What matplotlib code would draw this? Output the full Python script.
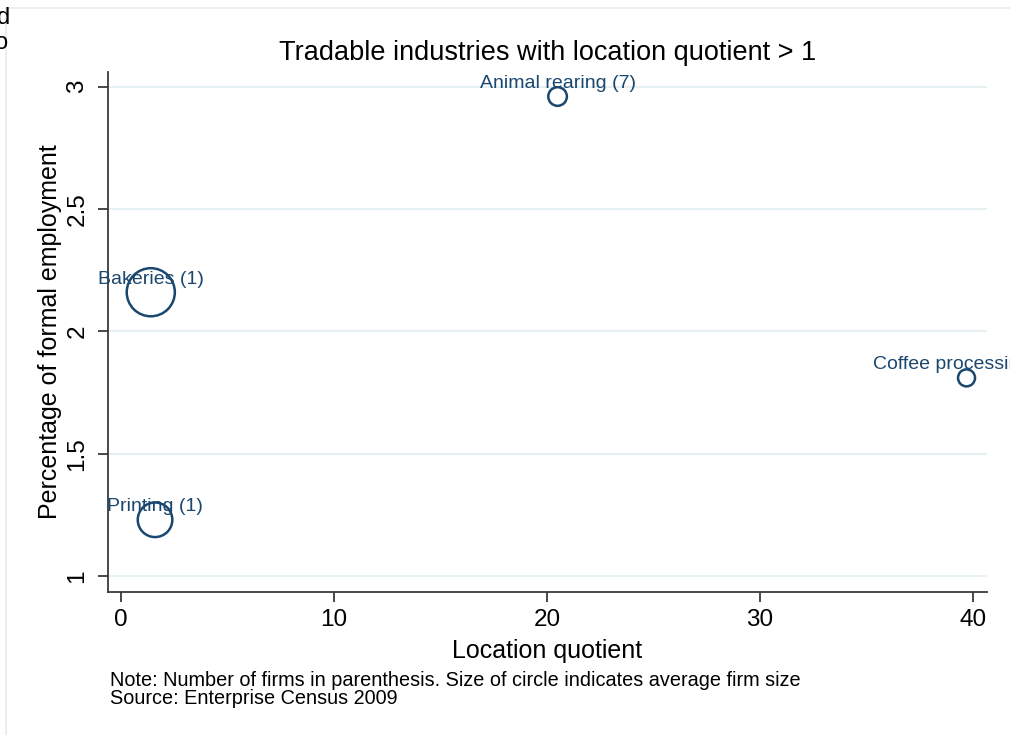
import numpy as np
import matplotlib.pyplot as plt
from matplotlib.lines import Line2D

plt.rcParams['font.family'] = ['Liberation Sans', 'DejaVu Sans']

# Tradable industries, location quotient vs share of formal employment
industries = ['Animal rearing', 'Bakeries', 'Printing', 'Coffee processing']
n_firms = [7, 1, 1, 1]
location_quotient = [20.5, 1.4, 1.6, 39.7]
pct_formal_emp = [2.96, 2.16, 1.23, 1.81]
avg_firm_size = [180, 1200, 620, 150]   # marker area

navy = '#1a476f'
grid_col = '#e6eff1'
axis_col = '#3a3a3a'

fig = plt.figure(figsize=(10.10, 7.35), dpi=100)
ax = fig.add_axes([0.1069, 0.1946, 0.8703, 0.7074])

ax.scatter(location_quotient, pct_formal_emp, s=avg_firm_size,
           facecolors='none', edgecolors=navy, linewidths=1.8, zorder=3)

for name, n, x, y in zip(industries, n_firms, location_quotient, pct_formal_emp):
    ax.annotate(f'{name} ({n})', (x, y), xytext=(0, 9.5), textcoords='offset points',
                ha='center', va='center', color=navy, fontsize=14,
                annotation_clip=False, zorder=4)

ax.set_xlim(-0.61, 40.66)
ax.set_ylim(0.935, 3.06)
ax.set_xticks([0, 10, 20, 30, 40])
ax.set_yticks([1, 1.5, 2, 2.5, 3])
ax.set_yticklabels(['1', '1.5', '2', '2.5', '3'], rotation=90, va='center')

ax.yaxis.grid(True, color=grid_col, linewidth=1.5)
ax.set_axisbelow(True)
for side in ['top', 'right']:
    ax.spines[side].set_visible(False)
for side in ['left', 'bottom']:
    ax.spines[side].set_color(axis_col)
    ax.spines[side].set_linewidth(1.3)
ax.tick_params(axis='both', direction='out', length=7, width=1.3, color=axis_col,
               labelsize=17.5, labelcolor='black')
ax.tick_params(axis='x', pad=5)
ax.tick_params(axis='y', pad=7)

ax.set_title('Tradable industries with location quotient > 1', fontsize=19.5, pad=9)
ax.set_xlabel('Location quotient', fontsize=18, labelpad=6)
ax.set_ylabel('Percentage of formal employment', fontsize=18, labelpad=3)

fig.text(0.109, 1 - 680 / 735, 'Note: Number of firms in parenthesis. Size of circle indicates average firm size',
         fontsize=14.3, va='center', ha='left')
fig.text(0.109, 1 - 699 / 735, 'Source: Enterprise Census 2009',
         fontsize=14.3, va='center', ha='left')

# page frame and neighbouring text at the left edge
fig.add_artist(Line2D([0.006, 0.006], [0.0, 0.989], color='#e4ecee', linewidth=1.2))
fig.add_artist(Line2D([0.006, 1.0], [0.989, 0.989], color='#e4ecee', linewidth=1.2))
fig.text(0.010, 0.976, 'd', fontsize=17, ha='right', va='center')
fig.text(0.008, 0.942, 'o', fontsize=17, ha='right', va='center')

fig.savefig('out.png', dpi=100)
